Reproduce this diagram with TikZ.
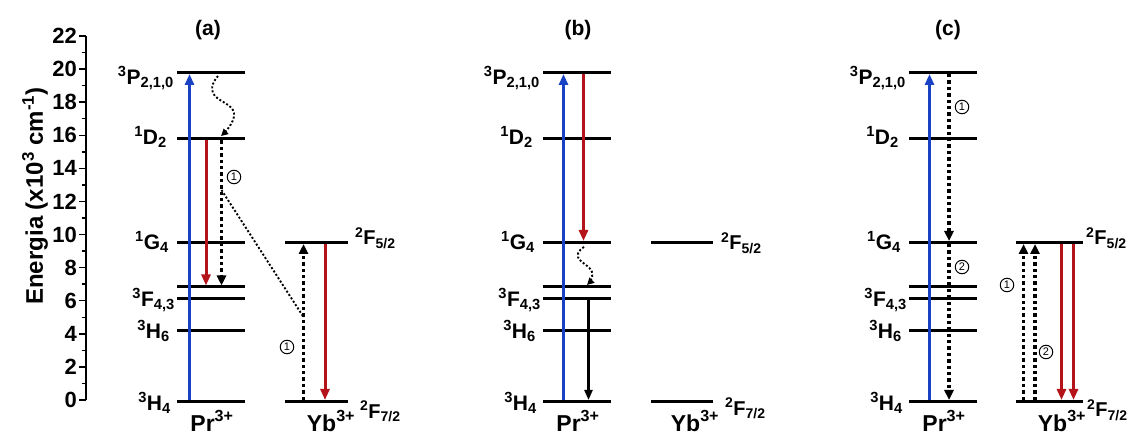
\documentclass[tikz,border=0pt]{standalone}
\usepackage{fontspec}
\setmainfont{Liberation Sans}
\usetikzlibrary{arrows.meta}
\definecolor{exblue}{RGB}{25,65,195}
\definecolor{emred}{RGB}{180,20,25}
\tikzset{
  levelline/.style={line width=3pt},
  axisline/.style={line width=1.8pt},
  tickline/.style={line width=1.5pt},
  lvl/.style={font=\fontsize{21}{21}\selectfont\bfseries, anchor=base east, inner sep=0pt},
  rlvl/.style={font=\fontsize{20}{20}\selectfont\bfseries, anchor=base west, inner sep=0pt},
  ion/.style={font=\fontsize{23}{23}\selectfont\bfseries, anchor=base, inner sep=0pt},
  ticklab/.style={font=\fontsize{22}{22}\selectfont\bfseries, anchor=east, inner sep=0pt},
  paneltitle/.style={font=\fontsize{21}{21}\selectfont\bfseries, inner sep=0pt},
  bluearr/.style={draw=exblue, line width=3pt, -{Triangle[length=11pt,width=9pt]}, shorten <=1.5pt, shorten >=1.5pt},
  redarr/.style={draw=emred, line width=3pt, -{Triangle[length=11pt,width=9pt]}, shorten <=1.5pt, shorten >=1.5pt},
  blackarr/.style={draw=black, line width=2.2pt, -{Triangle[length=10pt,width=8pt]}, shorten <=1.5pt, shorten >=1.5pt},
  dotarr/.style={draw=black, line width=3.6pt, dash pattern=on 3.4pt off 3pt, -{Triangle[length=10pt,width=9pt]}, shorten <=1.5pt, shorten >=1.5pt},
  thindot/.style={draw=black, line width=1.9pt, dash pattern=on 2pt off 2pt},
  wavyarr/.style={thindot, -{Triangle[length=7pt,width=7pt]}},
  circnum/.style={circle, draw, line width=1pt, fill=white, inner sep=0pt, minimum size=13.5pt, font=\fontsize{11}{11}\selectfont},
}
\begin{document}
\begin{tikzpicture}[x=1pt,y=-1pt]
\useasboundingbox (0,0) rectangle (1127,435);

% ---------- axis ----------
\coordinate (ax0) at (86,400);
\coordinate (ax22) at (86,36);
\draw[axisline] (ax0) -- (ax22);
\foreach \k in {0,2,...,22}{
  \pgfmathsetmacro\yy{400-16.545*\k}
  \draw[tickline] (86,\yy) -- (79,\yy);
  \node[ticklab] (tick\k) at (77,\yy) {\k};
}
\foreach \k in {1,3,...,21}{
  \pgfmathsetmacro\yy{400-16.545*\k}
  \draw[tickline] (86,\yy) -- (82,\yy);
}
\node[rotate=90, font=\fontsize{24}{24}\selectfont\bfseries, inner sep=0pt] (ylab) at (35,196)
  {Energia (x10\textsuperscript{3} cm\textsuperscript{-1})};

% ---------- panel titles ----------
\node[paneltitle] (ta) at (208,30) {(a)};
\node[paneltitle] (tb) at (578,30) {(b)};
\node[paneltitle] (tc) at (948,30) {(c)};

% ---------- Pr levels ----------
\foreach \p/\dx in {a/0,b/366,c/732}{
  \foreach \n/\y in {P/72.5,D/139,G/242.5,Fa/287,Fb/299,Hs/330.5,Hf/401.5}{
    \coordinate (\p-\n-L) at ({177+\dx},\y);
    \coordinate (\p-\n-R) at ({245+\dx},\y);
    \draw[levelline] (\p-\n-L) -- (\p-\n-R);
  }
  \node[lvl] (\p-P-t)  at ({177+\dx-3},84.5)  {\textsuperscript{3}P\textsubscript{2,1,0}};
  \node[lvl] (\p-D-t)  at ({177+\dx-10},144.5) {\textsuperscript{1}D\textsubscript{2}};
  \node[lvl] (\p-G-t)  at ({177+\dx-8},249.5)  {\textsuperscript{1}G\textsubscript{4}};
  \node[lvl] (\p-F-t)  at ({177+\dx-2},306.5)  {\textsuperscript{3}F\textsubscript{4,3}};
  \node[lvl] (\p-Hs-t) at ({177+\dx-7},338.5)  {\textsuperscript{3}H\textsubscript{6}};
  \node[lvl] (\p-Hf-t) at ({177+\dx-6},410.5)  {\textsuperscript{3}H\textsubscript{4}};
  \node[ion] (\p-pr) at ({212+\dx},431) {Pr\textsuperscript{3+}};
}

% ---------- Yb levels ----------
\foreach \p/\l/\r/\yc in {a/285/348/331,b/651/713/695,c/1016/1083/1062}{
  \coordinate (\p-Y5-L) at (\l,242.5);
  \coordinate (\p-Y5-R) at (\r,242.5);
  \coordinate (\p-Y7-L) at (\l,401.5);
  \coordinate (\p-Y7-R) at (\r,401.5);
  \draw[levelline] (\p-Y5-L) -- (\p-Y5-R);
  \draw[levelline] (\p-Y7-L) -- (\p-Y7-R);
  \node[ion] (\p-yb) at (\yc,431) {Yb\textsuperscript{3+}};
}
\node[rlvl] (a-Y5-t) at (355,245)   {\textsuperscript{2}F\textsubscript{5/2}};
\node[rlvl] (a-Y7-t) at (360,418)   {\textsuperscript{2}F\textsubscript{7/2}};
\node[rlvl] (b-Y5-t) at (721,250)   {\textsuperscript{2}F\textsubscript{5/2}};
\node[rlvl] (b-Y7-t) at (725,415.5) {\textsuperscript{2}F\textsubscript{7/2}};
\node[rlvl] (c-Y5-t) at (1086,245)  {\textsuperscript{2}F\textsubscript{5/2}};
\node[rlvl] (c-Y7-t) at (1087,417)  {\textsuperscript{2}F\textsubscript{7/2}};

% ---------- panel (a) transitions ----------
\coordinate (a-blue) at (189.5,0);
\coordinate (a-red) at (206,0);
\coordinate (a-dot) at (221.5,0);
\coordinate (a-ybdot) at (303.5,0);
\coordinate (a-ybred) at (325,0);
\draw[bluearr] (a-blue |- a-Hf-L) -- (a-blue |- a-P-L);
\draw[redarr] (a-red |- a-D-L) -- (a-red |- a-Fa-L);
\draw[dotarr] (a-dot |- a-D-L) -- (a-dot |- a-Fa-L);
\draw[dotarr] (a-ybdot |- a-Y7-L) -- (a-ybdot |- a-Y5-L);
\draw[redarr] (a-ybred |- a-Y5-L) -- (a-ybred |- a-Y7-L);
\coordinate (a-w0) at (218,76);
\coordinate (a-w1) at (213,93);
\coordinate (a-w2) at (234,113);
\coordinate (a-w3) at (221,136);
\draw[wavyarr] plot[smooth, tension=0.8] coordinates {(a-w0) (a-w1) (a-w2) (a-w3)};
\coordinate (a-ds) at (221.5,190);
\coordinate (a-de) at (303.5,317);
\draw[thindot] (a-ds) -- (a-de);
\node[circnum] (a-c1) at (234,177) {1};
\node[circnum] (a-c2) at (287,347) {1};

% ---------- panel (b) transitions ----------
\coordinate (b-blue) at (563.5,0);
\coordinate (b-red) at (583.5,0);
\coordinate (b-blk) at (588.5,0);
\draw[bluearr] (b-blue |- b-Hf-L) -- (b-blue |- b-P-L);
\draw[redarr] (b-red |- b-P-L) -- (b-red |- b-G-L);
\draw[blackarr] (b-blk |- b-Fb-L) -- (b-blk |- b-Hf-L);
\coordinate (b-w0) at (584,247);
\coordinate (b-w1) at (578,257);
\coordinate (b-w2) at (592,272);
\coordinate (b-w3) at (587,285);
\draw[wavyarr] plot[smooth, tension=0.8] coordinates {(b-w0) (b-w1) (b-w2) (b-w3)};

% ---------- panel (c) transitions ----------
\coordinate (c-blue) at (929.5,0);
\coordinate (c-dot) at (949,0);
\coordinate (c-yd1) at (1023.5,0);
\coordinate (c-yd2) at (1035,0);
\coordinate (c-yr1) at (1061.5,0);
\coordinate (c-yr2) at (1073.5,0);
\draw[bluearr] (c-blue |- c-Hf-L) -- (c-blue |- c-P-L);
\draw[dotarr] (c-dot |- c-P-L) -- (c-dot |- c-G-L);
\draw[dotarr] (c-dot |- c-G-L) -- (c-dot |- c-Hf-L);
\draw[dotarr] (c-yd1 |- c-Y7-L) -- (c-yd1 |- c-Y5-L);
\draw[dotarr] (c-yd2 |- c-Y7-L) -- (c-yd2 |- c-Y5-L);
\draw[redarr] (c-yr1 |- c-Y5-L) -- (c-yr1 |- c-Y7-L);
\draw[redarr] (c-yr2 |- c-Y5-L) -- (c-yr2 |- c-Y7-L);
\node[circnum] (c-c1) at (962,107) {1};
\node[circnum] (c-c2) at (962,267) {2};
\node[circnum] (c-c3) at (1007,285) {1};
\node[circnum] (c-c4) at (1046,352) {2};
\end{tikzpicture}
\end{document}
